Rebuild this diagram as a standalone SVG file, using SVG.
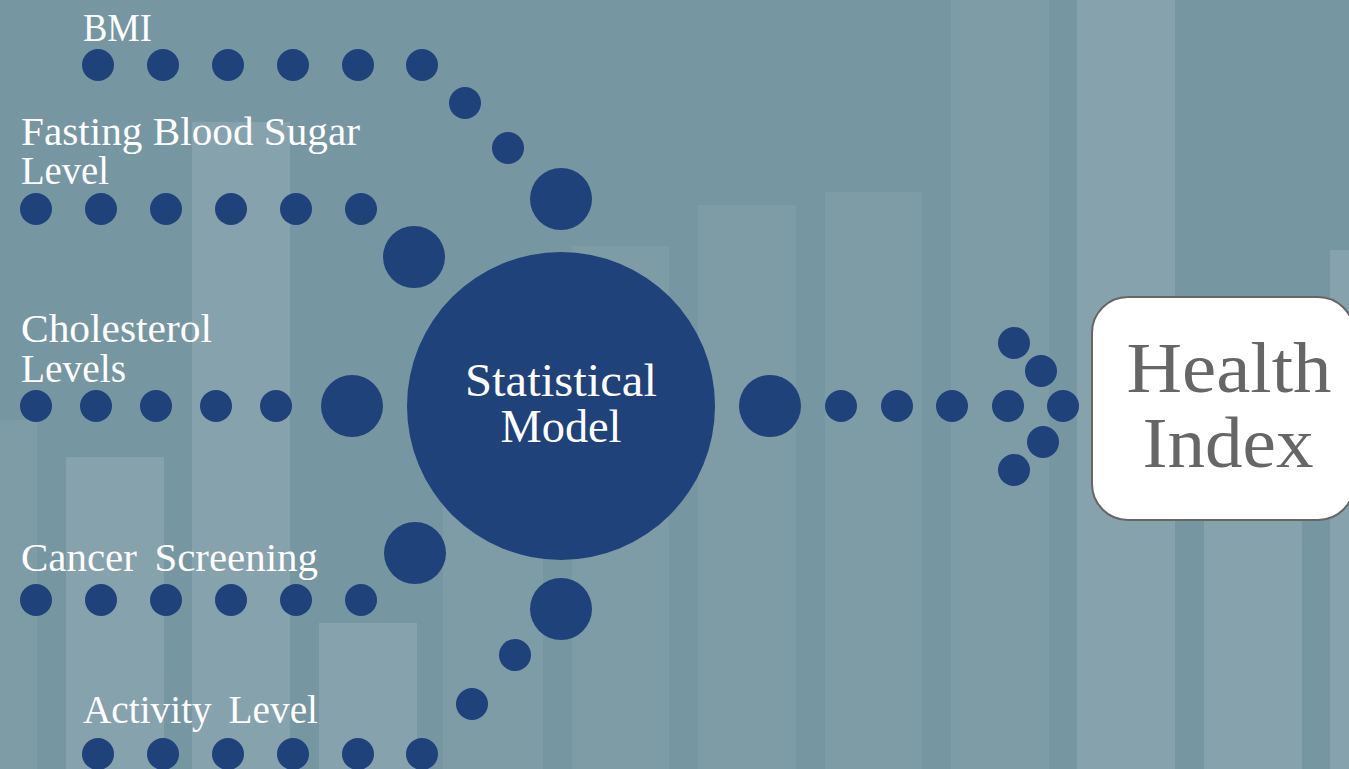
<svg xmlns="http://www.w3.org/2000/svg" width="1349" height="769" viewBox="0 0 1349 769">
<style>
.bg{fill:#7697a1}
.bm{fill:#7e9ca6}
.bl{fill:#86a2ac}
.dot{fill:#1f427b}
.lbl{font-family:"Liberation Serif","Times New Roman",serif;font-size:39px;fill:#ffffff}
.wide{word-spacing:7px}
.mdl{font-family:"Liberation Serif","Times New Roman",serif;font-size:46px;fill:#ffffff;text-anchor:middle}
.out{font-family:"Liberation Serif","Times New Roman",serif;font-size:72px;fill:#666666;text-anchor:middle}
</style>
<g id="background">
<rect class="bg" x="0" y="0" width="1349" height="769"/>
<rect class="bm" x="-60" y="420" width="97" height="349"/>
<rect class="bl" x="66" y="457" width="98" height="312"/>
<rect class="bl" x="192" y="122" width="98" height="647"/>
<rect class="bl" x="319" y="623" width="98" height="146"/>
<rect class="bm" x="443" y="470" width="100" height="299"/>
<rect class="bm" x="572" y="246" width="97" height="523"/>
<rect class="bm" x="698" y="205" width="98" height="564"/>
<rect class="bm" x="825" y="192" width="97" height="577"/>
<rect class="bm" x="951" y="0" width="98" height="769"/>
<rect class="bl" x="1077" y="0" width="98" height="769"/>
<rect class="bl" x="1204" y="400" width="98" height="369"/>
<rect class="bl" x="1330" y="250" width="40" height="519"/>
</g>
<g id="connectors">
<circle class="dot" cx="98" cy="65" r="16"/><circle class="dot" cx="163" cy="65" r="16"/><circle class="dot" cx="228" cy="65" r="16"/><circle class="dot" cx="293" cy="65" r="16"/><circle class="dot" cx="358" cy="65" r="16"/><circle class="dot" cx="422" cy="65" r="16"/>
<circle class="dot" cx="465" cy="103" r="16"/><circle class="dot" cx="508" cy="148" r="16"/><circle class="dot" cx="561" cy="199" r="31"/>
<circle class="dot" cx="36" cy="209" r="16"/><circle class="dot" cx="101" cy="209" r="16"/><circle class="dot" cx="166" cy="209" r="16"/><circle class="dot" cx="231" cy="209" r="16"/><circle class="dot" cx="296" cy="209" r="16"/><circle class="dot" cx="361" cy="209" r="16"/>
<circle class="dot" cx="414" cy="257" r="31"/>
<circle class="dot" cx="36" cy="406" r="16"/><circle class="dot" cx="96" cy="406" r="16"/><circle class="dot" cx="156" cy="406" r="16"/><circle class="dot" cx="216" cy="406" r="16"/><circle class="dot" cx="276" cy="406" r="16"/>
<circle class="dot" cx="352" cy="406" r="31"/>
<circle class="dot" cx="36" cy="600" r="16"/><circle class="dot" cx="101" cy="600" r="16"/><circle class="dot" cx="166" cy="600" r="16"/><circle class="dot" cx="231" cy="600" r="16"/><circle class="dot" cx="296" cy="600" r="16"/><circle class="dot" cx="361" cy="600" r="16"/>
<circle class="dot" cx="415" cy="553" r="31"/>
<circle class="dot" cx="98" cy="754" r="16"/><circle class="dot" cx="163" cy="754" r="16"/><circle class="dot" cx="228" cy="754" r="16"/><circle class="dot" cx="293" cy="754" r="16"/><circle class="dot" cx="358" cy="754" r="16"/><circle class="dot" cx="422" cy="754" r="16"/>
<circle class="dot" cx="472" cy="704" r="16"/><circle class="dot" cx="515" cy="655" r="16"/><circle class="dot" cx="561" cy="609" r="31"/>
<circle class="dot" cx="770" cy="406" r="31"/>
<circle class="dot" cx="841" cy="406" r="16"/><circle class="dot" cx="897" cy="406" r="16"/><circle class="dot" cx="952" cy="406" r="16"/>
<circle class="dot" cx="1014" cy="343" r="16"/><circle class="dot" cx="1041" cy="371" r="16"/><circle class="dot" cx="1008" cy="406" r="16"/><circle class="dot" cx="1063" cy="406" r="16"/><circle class="dot" cx="1043" cy="442" r="16"/><circle class="dot" cx="1014" cy="470" r="16"/>
</g>
<g id="label-bmi"><text class="lbl" x="83" y="41" textLength="69" lengthAdjust="spacingAndGlyphs">BMI</text></g>
<g id="label-fasting"><text class="lbl" x="21" y="145" textLength="339" lengthAdjust="spacingAndGlyphs">Fasting Blood Sugar</text><text class="lbl" x="21" y="184" textLength="88" lengthAdjust="spacingAndGlyphs">Level</text></g>
<g id="label-cholesterol"><text class="lbl" x="21" y="342" textLength="191" lengthAdjust="spacingAndGlyphs">Cholesterol</text><text class="lbl" x="21" y="382" textLength="105" lengthAdjust="spacingAndGlyphs">Levels</text></g>
<g id="label-cancer"><text class="lbl wide" x="21" y="571" textLength="297" lengthAdjust="spacingAndGlyphs">Cancer Screening</text></g>
<g id="label-activity"><text class="lbl wide" x="83" y="723" textLength="235" lengthAdjust="spacingAndGlyphs">Activity Level</text></g>
<g id="node-model">
<circle class="dot" cx="561" cy="406" r="154"/>
<text class="mdl" x="561" y="396" textLength="192" lengthAdjust="spacingAndGlyphs">Statistical</text>
<text class="mdl" x="561" y="442" textLength="121" lengthAdjust="spacingAndGlyphs">Model</text>
</g>
<g id="node-health">
<rect x="1092" y="297" width="262" height="223" rx="36" ry="36" fill="#ffffff" stroke="#666666" stroke-width="2"/>
<text class="out" x="1229" y="392" textLength="205" lengthAdjust="spacingAndGlyphs">Health</text>
<text class="out" x="1228" y="467" textLength="171" lengthAdjust="spacingAndGlyphs">Index</text>
</g>
</svg>
